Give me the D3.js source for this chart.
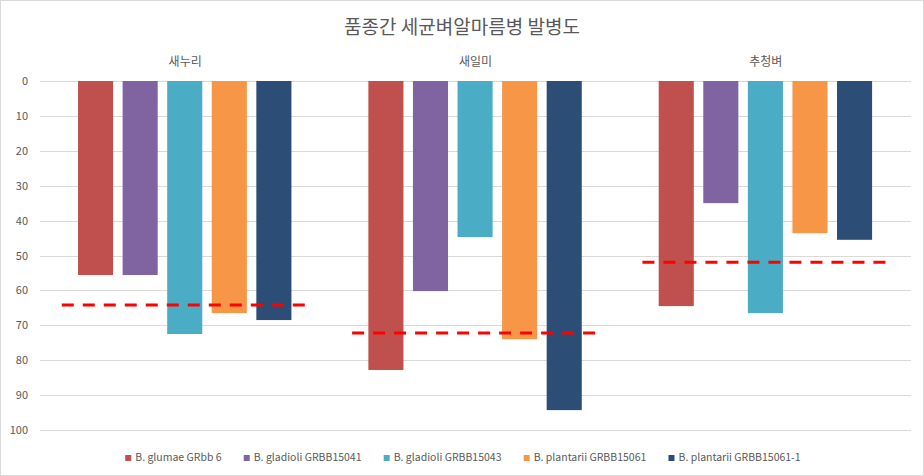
<!DOCTYPE html>
<html><head><meta charset="utf-8">
<script src="https://cdn.jsdelivr.net/npm/d3@7"></script>
<style>
html,body{margin:0;padding:0;background:#fff;}
svg{display:block;font-family:"Noto Sans CJK KR","Noto Sans",sans-serif;}
</style></head>
<body>
<svg id="c" width="924" height="476"></svg>
<script>
const title = "품종간 세균벼알마름병 발병도";
const categories = ["새누리", "새일미", "추청벼"];
const seriesNames = ["B. glumae GRbb 6", "B. gladioli GRBB15041", "B. gladioli GRBB15043", "B. plantarii GRBB15061", "B. plantarii GRBB15061-1"];
const glumae = [55.6, 82.8, 64.5];
const gladioli41 = [55.6, 60.2, 35.0];
const gladioli43 = [72.5, 44.7, 66.5];
const plantarii61 = [66.5, 74.0, 43.6];
const plantarii61_1 = [68.5, 94.3, 45.5];
const averages = [64.2, 72.2, 51.9];
const yTicks = [0, 10, 20, 30, 40, 50, 60, 70, 80, 90, 100];
const colors = ["#C0504D", "#8064A2", "#4BACC6", "#F79646", "#2C4D75"];

const seriesValues = [glumae, gladioli41, gladioli43, plantarii61, plantarii61_1];

const svg = d3.select("#c");
const W = 924, H = 476;
const plot = {left: 40, right: 911, top: 81, bottom: 430};

svg.append("rect").attr("x",0.5).attr("y",0.5).attr("width",W-1).attr("height",H-1)
  .attr("fill","#fff").attr("stroke","#D9D9D9");

const y = d3.scaleLinear().domain([0,100]).range([plot.top, plot.bottom]);
const x0 = d3.scaleBand().domain(categories).range([plot.left, plot.right]).padding(0);
const gw = x0.bandwidth();
const x1 = d3.scaleBand().domain(d3.range(seriesNames.length))
  .range([gw*0.131, gw*0.866]).paddingInner(0.213).paddingOuter(0);

// gridlines
svg.append("g").selectAll("line").data(yTicks).join("line")
  .attr("x1", plot.left).attr("x2", plot.right)
  .attr("y1", d => Math.round(y(d))+0.5).attr("y2", d => Math.round(y(d))+0.5)
  .attr("stroke", "#D9D9D9").attr("stroke-width", 1);

// y axis labels
const yAxis = d3.axisLeft(y).tickValues(yTicks).tickSize(0).tickPadding(0);
const ya = svg.append("g").attr("transform", `translate(${plot.left-12},0)`).call(yAxis);
ya.select(".domain").remove();
ya.selectAll("text").attr("fill","#595959").style("font-size","11px")
  .style("font-family",'"Noto Sans CJK KR","Noto Sans",sans-serif');

// bars
const groups = svg.append("g").selectAll("g").data(categories).join("g")
  .attr("transform", d => `translate(${x0(d)},0)`);
groups.selectAll("rect").data((c, ci) => seriesValues.map((s, si) => ({si, v: s[ci]})))
  .join("rect")
  .attr("x", d => x1(d.si)).attr("width", x1.bandwidth())
  .attr("y", y(0)).attr("height", d => y(d.v) - y(0))
  .attr("fill", d => colors[d.si]);

// average dashed lines
svg.append("g").selectAll("line").data(categories).join("line")
  .attr("x1", d => x0(d) + gw*0.075).attr("x2", d => x0(d) + gw*0.925)
  .attr("y1", (d,i) => y(averages[i])).attr("y2", (d,i) => y(averages[i]))
  .attr("stroke", "#FF0000").attr("stroke-width", 3).attr("stroke-dasharray", "12,9");

// category labels
svg.append("g").selectAll("text").data(categories).join("text")
  .attr("x", d => x0(d) + gw/2).attr("y", 66)
  .attr("text-anchor","middle").attr("fill","#595959").style("font-size","12px")
  .text(d => d);

// title
svg.append("text").attr("x", W/2).attr("y", 34).attr("text-anchor","middle")
  .attr("fill","#595959").style("font-size","19px").text(title);

// legend
const lg = svg.append("g");
const items = lg.selectAll("g").data(seriesNames).join("g");
items.append("rect").attr("width",6).attr("height",6).attr("y",-6)
  .attr("fill",(d,i)=>colors[i]);
items.append("text").attr("x",10).attr("y",0).attr("fill","#595959")
  .style("font-size","10.5px").text(d=>d);
let widths = [];
items.each(function(){ widths.push(this.getBBox().width); });
const gap = 22;
const total = d3.sum(widths) + gap*(widths.length-1);
let cx = (W - total)/2 + 1;
items.attr("transform", (d,i) => { const t = `translate(${cx},461)`; cx += widths[i] + gap; return t; });
</script>
</body></html>
